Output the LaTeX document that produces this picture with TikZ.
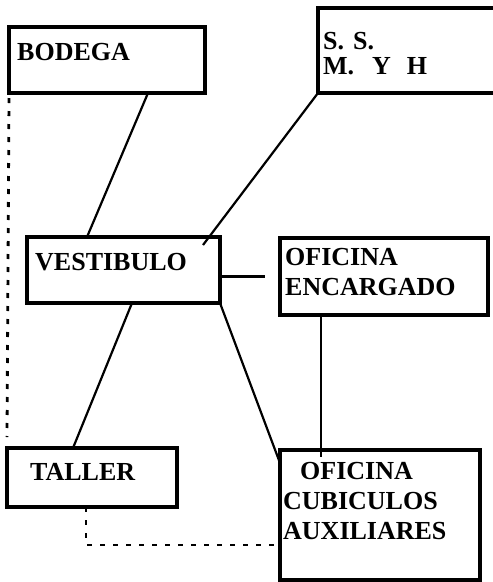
\documentclass[tikz,border=0pt]{standalone}
\usepackage{fontspec}
\setmainfont{Liberation Serif}
\usetikzlibrary{positioning, calc}

\begin{document}
\begin{tikzpicture}[x=1pt, y=-1pt,
  box/.style={rectangle, draw, line width=3.6pt, outer sep=0pt, inner sep=0pt},
  tag/.style={anchor=north west, inner sep=0pt, align=left, font=\bfseries\fontsize{26}{30}\selectfont},
  link/.style={line width=2.2pt},
  dashlink/.style={line width=2.8pt, dash pattern=on 5pt off 8pt}]

\clip (0,0) rectangle (493,582);

\node[box, minimum width=196pt, minimum height=66pt, label={[tag, xshift=8pt, yshift=-16pt]north west:BODEGA}] (bodega) at (107,60) {};
\node[box, minimum width=182pt, minimum height=85pt, label={[tag, xshift=5pt, yshift=-24pt, font=\bfseries\fontsize{26}{25}\selectfont]north west:S.\hspace{9pt}S.\\M.\hspace{18pt}Y\hspace{16pt}H}] (ss) at (409,50.5) {};
\node[box, minimum width=193pt, minimum height=66pt, label={[tag, xshift=8pt, yshift=-16pt]north west:VESTIBULO}] (vestibulo) at (123.5,270) {};
\node[box, minimum width=208pt, minimum height=77pt, label={[tag, xshift=5pt, yshift=-10pt]north west:OFICINA\\ENCARGADO}] (encargado) at (384,276.5) {};
\node[box, minimum width=170pt, minimum height=59pt, label={[tag, xshift=23pt, yshift=-15pt]north west:TALLER}] (taller) at (92,477.5) {};
\node[box, minimum width=200pt, minimum height=130pt, label={[tag, xshift=3pt, yshift=-12pt]north west:\hspace*{17pt}OFICINA\\CUBICULOS\\AUXILIARES}] (cubiculos) at (380,515) {};

\draw[link] ([xshift=41pt]bodega.south) -- ([xshift=-36.5pt]vestibulo.north);
\draw[link] (ss.south west) -- ([xshift=-17pt, yshift=-8pt]vestibulo.north east);
\draw[link] (vestibulo.east |- encargado.west) -- ([xshift=-15pt]encargado.west);
\draw[link] ([xshift=8.5pt]vestibulo.south) -- ([xshift=-19pt]taller.north);
\draw[link] (vestibulo.south east) -- ([yshift=-13pt]cubiculos.north west);
\draw[link, line width=1.5pt] ([xshift=-63pt]encargado.south) -- ([xshift=-59pt, yshift=-7pt]cubiculos.north);
\draw[dashlink] ([yshift=-5pt]bodega.south west) -- ([yshift=11pt]taller.north west);
\draw[dashlink] ([xshift=-6pt]taller.south) |- ([yshift=-30pt]cubiculos.west);

\end{tikzpicture}
\end{document}
